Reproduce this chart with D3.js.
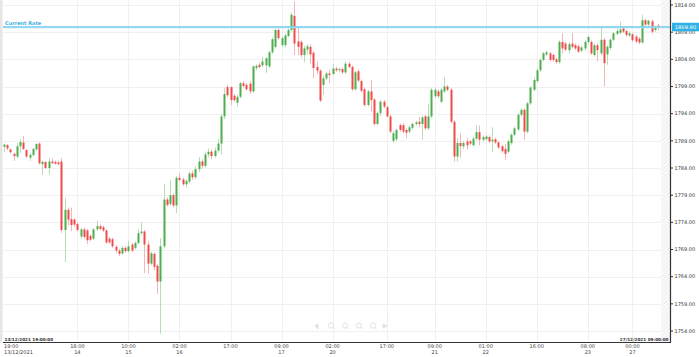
<!DOCTYPE html>
<html><head><meta charset="utf-8">
<script src="https://cdn.jsdelivr.net/npm/d3@7"></script>
<style>html,body{margin:0;padding:0;background:#fff;}svg{display:block;}</style>
</head><body>
<svg id="c" width="699" height="357"></svg>
<script>
const opens = [1787.9,1788.2,1787.4,1786.6,1786.1,1788.0,1788.7,1787.3,1785.9,1786.4,1787.4,1788.5,1784.7,1785.1,1784.0,1785.2,1785.1,1785.0,1785.2,1772.6,
1776.3,1774.6,1774.5,1773.7,1771.4,1772.7,1772.5,1771.5,1771.0,1772.7,1773.3,1773.1,1772.5,1771.0,1770.9,1769.5,1768.8,1768.3,1769.3,1768.7,
1769.9,1769.3,1770.2,1772.0,1772.3,1769.9,1766.4,1768.2,1766.0,1763.1,1769.6,1778.2,1777.4,1779.0,1777.1,1782.2,1781.9,1781.0,1781.5,1783.0,
1782.3,1783.8,1785.2,1784.4,1786.5,1787.0,1786.2,1787.2,1788.5,1793.5,1798.9,1798.9,1797.3,1796.0,1797.1,1799.6,1799.3,1799.5,1798.1,1802.4,
1803.0,1802.9,1802.9,1802.7,1805.3,1806.3,1809.4,1806.6,1806.6,1808.3,1809.4,1812.0,1807.3,1807.2,1804.8,1805.8,1806.3,1805.2,1802.6,1801.9,
1799.3,1800.5,1801.4,1801.3,1802.3,1802.0,1802.2,1801.6,1803.2,1802.6,1798.5,1801.8,1800.0,1798.5,1795.6,1798.1,1796.6,1792.1,1794.1,1796.2,
1795.2,1793.5,1789.0,1789.3,1791.9,1791.9,1791.0,1790.7,1791.4,1792.1,1792.5,1792.1,1793.5,1791.3,1793.5,1797.2,1798.1,1796.2,1798.1,1799.0,
1798.4,1792.5,1786.1,1788.6,1788.0,1788.9,1788.9,1788.2,1789.4,1790.6,1789.2,1789.3,1789.7,1788.9,1789.3,1788.7,1788.0,1787.5,1787.0,1788.6,
1790.1,1791.1,1793.8,1794.7,1790.7,1795.9,1798.4,1800.0,1802.0,1803.9,1804.9,1805.1,1804.8,1804.0,1803.5,1807.2,1806.9,1805.7,1806.9,1806.6,
1806.4,1805.6,1806.0,1807.2,1807.2,1804.8,1806.6,1805.1,1807.6,1804.9,1806.1,1807.6,1808.7,1808.9,1809.7,1809.2,1808.4,1808.6,1808.2,1807.8,
1807.1,1811.2,1810.4,1811.0,1809.4,1810.2];
const highs = [1788.5,1788.4,1787.6,1786.8,1788.6,1789.3,1789.9,1787.5,1786.8,1787.7,1788.6,1788.7,1785.4,1785.3,1785.8,1785.8,1785.4,1785.3,1785.8,1778.5,
1776.7,1776.7,1774.8,1774.0,1773.0,1773.0,1772.8,1771.8,1773.0,1774.3,1773.6,1773.4,1772.8,1771.3,1771.2,1769.8,1769.1,1769.6,1769.6,1770.6,
1770.2,1770.5,1772.7,1774.0,1772.6,1770.5,1768.6,1768.5,1766.3,1771.1,1781.1,1778.6,1781.8,1779.3,1782.5,1783.0,1782.2,1781.9,1783.3,1783.5,
1784.3,1786.0,1785.6,1787.0,1787.6,1787.4,1787.8,1789.4,1794.0,1798.7,1799.3,1799.0,1797.6,1797.4,1799.9,1800.0,1799.6,1800.0,1802.9,1803.1,
1803.3,1804.5,1804.4,1805.6,1808.0,1809.7,1809.9,1808.2,1808.7,1809.7,1812.6,1814.6,1809.9,1807.5,1806.5,1806.8,1806.8,1805.6,1803.6,1802.2,
1801.0,1801.7,1802.0,1803.2,1802.6,1802.5,1802.5,1803.6,1803.5,1802.9,1801.9,1802.1,1800.3,1798.8,1798.4,1800.2,1796.9,1794.4,1796.5,1796.5,
1795.5,1793.8,1790.8,1791.3,1792.2,1792.3,1791.3,1791.8,1792.4,1792.7,1793.4,1793.6,1793.8,1795.8,1798.7,1798.7,1798.5,1798.7,1800.8,1799.3,
1798.7,1792.8,1789.5,1790.4,1789.0,1789.5,1789.2,1789.7,1791.9,1791.8,1790.0,1790.1,1790.0,1791.5,1789.6,1789.0,1788.3,1788.4,1789.2,1790.4,
1791.6,1794.1,1795.0,1795.0,1796.2,1799.1,1800.6,1802.3,1804.2,1805.4,1805.6,1805.4,1805.1,1804.3,1807.5,1808.8,1807.2,1807.1,1808.8,1806.9,
1806.7,1806.5,1807.5,1808.4,1807.5,1806.9,1806.9,1810.1,1807.9,1806.6,1807.9,1809.1,1809.8,1810.9,1810.0,1809.5,1809.1,1808.9,1808.5,1808.1,
1812.2,1811.5,1811.3,1811.3,1810.2,1810.5];
const lows = [1786.9,1787.3,1786.7,1785.3,1785.8,1786.8,1787.3,1785.8,1785.3,1786.1,1787.2,1784.6,1782.7,1783.8,1782.8,1784.7,1784.6,1784.5,1772.1,1766.7,
1773.5,1772.4,1773.2,1772.3,1771.0,1771.0,1770.0,1770.5,1770.7,1772.4,1772.5,1772.2,1770.0,1770.0,1769.3,1768.4,1767.8,1768.0,1768.4,1768.4,
1768.5,1769.0,1769.9,1771.7,1764.7,1764.5,1766.1,1765.2,1760.8,1753.5,1769.2,1776.9,1777.0,1776.7,1775.7,1781.5,1780.7,1780.4,1781.2,1781.8,
1781.9,1783.3,1783.9,1784.0,1786.0,1785.6,1785.9,1786.8,1786.5,1793.0,1797.0,1795.6,1796.2,1795.3,1796.8,1798.8,1798.2,1797.6,1797.8,1802.0,
1802.3,1802.6,1801.5,1802.4,1805.0,1806.0,1807.6,1806.3,1806.3,1808.0,1809.1,1804.8,1804.8,1804.3,1803.5,1804.9,1803.2,1800.5,1801.3,1796.1,
1797.5,1800.2,1799.6,1801.0,1801.7,1801.6,1801.3,1801.3,1802.3,1798.2,1798.2,1799.8,1797.9,1795.3,1795.3,1794.4,1791.8,1791.8,1793.5,1795.0,
1793.2,1790.4,1788.6,1788.9,1790.7,1790.4,1789.5,1790.4,1791.1,1791.8,1791.5,1789.2,1791.0,1791.0,1793.2,1796.9,1796.9,1795.9,1797.8,1798.1,
1792.2,1785.2,1785.2,1785.9,1787.5,1787.4,1788.2,1787.9,1789.1,1788.2,1788.9,1789.0,1788.6,1787.0,1788.4,1787.5,1786.8,1785.5,1786.7,1788.3,
1789.8,1790.8,1793.5,1789.2,1790.4,1795.6,1798.1,1799.7,1801.7,1803.6,1804.6,1803.6,1803.6,1803.2,1803.2,1805.1,1805.5,1805.1,1806.0,1805.7,
1805.1,1805.3,1805.7,1806.9,1804.8,1804.5,1803.6,1804.8,1799.0,1803.0,1805.8,1807.3,1808.4,1808.6,1808.8,1808.2,1808.1,1807.2,1807.0,1806.8,
1806.9,1810.1,1810.1,1808.7,1809.1,1809.3];
const closes = [1788.3,1787.6,1786.9,1786.2,1788.0,1788.8,1787.5,1786.1,1786.4,1787.5,1788.4,1784.9,1785.1,1784.0,1785.2,1784.9,1784.8,1784.7,1772.6,1776.3,
1774.5,1773.5,1773.6,1772.6,1772.7,1771.3,1770.7,1770.8,1772.7,1773.3,1772.8,1772.5,1770.3,1770.3,1769.6,1768.8,1768.2,1769.3,1768.7,1769.6,
1768.8,1770.2,1772.0,1772.3,1769.9,1766.4,1768.3,1765.8,1763.1,1769.6,1778.2,1777.2,1779.0,1777.1,1782.2,1781.8,1781.0,1781.6,1783.0,1782.3,
1783.8,1785.2,1784.4,1786.5,1787.0,1786.2,1787.2,1788.5,1793.5,1797.6,1797.4,1796.5,1796.5,1797.1,1799.6,1799.1,1798.5,1798.1,1802.7,1802.8,
1802.6,1803.6,1804.2,1805.3,1807.7,1809.4,1807.9,1807.9,1808.4,1809.4,1812.2,1806.9,1806.3,1804.8,1806.0,1806.4,1804.9,1802.4,1801.9,1796.4,
1800.5,1801.4,1801.1,1802.3,1802.0,1802.2,1801.6,1803.2,1802.6,1798.5,1801.6,1800.1,1798.2,1795.6,1798.1,1796.5,1792.1,1794.1,1796.2,1795.3,
1793.5,1790.7,1790.4,1791.0,1791.0,1790.7,1790.5,1791.5,1792.1,1792.4,1792.1,1793.3,1791.3,1793.5,1798.4,1798.4,1797.2,1798.4,1799.0,1798.4,
1792.5,1786.1,1788.6,1788.0,1788.6,1788.2,1788.5,1789.4,1790.6,1789.2,1789.7,1789.8,1788.9,1789.2,1788.7,1787.8,1787.1,1786.6,1788.9,1790.1,
1791.3,1793.8,1794.7,1790.7,1795.9,1798.8,1800.2,1802.0,1803.9,1805.1,1805.3,1803.9,1803.9,1803.5,1807.2,1806.0,1805.8,1806.8,1806.3,1806.0,
1805.4,1806.2,1807.2,1808.1,1805.1,1806.6,1805.7,1807.6,1803.3,1806.3,1807.6,1808.8,1809.2,1809.5,1809.1,1808.5,1808.8,1807.5,1807.3,1807.1,
1811.2,1810.4,1811.1,1809.1,1810.0,1809.9];

const priceTicks = [1754,1759,1764,1769,1774,1779,1784,1789,1794,1799,1804,1809,1814];
const timeTickIdx = [23,39,55,71,87,103,120,135,151,167,183,197];
const timeTickTop = ["18:00","10:00","02:00","17:00","09:00","02:00","17:00","09:00","01:00","16:00","08:00","00:00"];
const timeTickBottom = ["14","15","16","","17","20","","21","22","","23","27"];
const firstLabel = ["19:00","13/12/2021"];
const startStamp = "13/12/2021 19:00:00";
const endStamp = "27/12/2021 09:00:00";
const currentRate = 1809.90;

const svg = d3.select("#c");
const x = d3.scaleLinear().domain([0, opens.length-1]).range([4, 658]);
const y = d3.scaleLinear().domain([1754, 1814]).range([331, 5]);
const plotR = 661, axisX = 670.5, axisY = 342.5;

// hatch pattern
const defs = svg.append("defs");
const pat = defs.append("pattern").attr("id","hatch").attr("patternUnits","userSpaceOnUse")
  .attr("width",3).attr("height",3).attr("patternTransform","rotate(45)");
pat.append("rect").attr("width",3).attr("height",3).attr("fill","#fafafa");
pat.append("line").attr("x1",0).attr("y1",0).attr("x2",0).attr("y2",3).attr("stroke","#e4e4e4").attr("stroke-width",1);
svg.append("rect").attr("x",plotR).attr("y",0).attr("width",axisX-plotR).attr("height",axisY).attr("fill","url(#hatch)");

// left strip
svg.append("rect").attr("x",0).attr("y",0).attr("width",2.5).attr("height",axisY).attr("fill","#e6e6e6");

// grid
svg.append("g").selectAll("line").data(priceTicks).join("line")
  .attr("x1",3).attr("x2",plotR).attr("y1",d=>Math.round(y(d))+0.5).attr("y2",d=>Math.round(y(d))+0.5)
  .attr("stroke","#f0f0f0");
svg.append("g").selectAll("line").data(timeTickIdx).join("line")
  .attr("x1",d=>Math.round(x(d))+0.5).attr("x2",d=>Math.round(x(d))+0.5).attr("y1",0).attr("y2",axisY)
  .attr("stroke","#f0f0f0");

// candles
const idx = d3.range(opens.length);
const up = i => closes[i] >= opens[i];
const g = svg.append("g");
g.selectAll("line.w").data(idx).join("line").attr("class","w")
  .attr("x1",i=>Math.round(x(i))+0.5).attr("x2",i=>Math.round(x(i))+0.5)
  .attr("y1",i=>y(highs[i])).attr("y2",i=>y(lows[i]))
  .attr("stroke",i=>up(i)?"#b5deb5":"#f7b5b5").attr("stroke-width",1);
g.selectAll("rect.b").data(idx).join("rect").attr("class","b")
  .attr("x",i=>Math.round(x(i))-0.5).attr("width",2)
  .attr("y",i=>y(Math.max(opens[i],closes[i])))
  .attr("height",i=>Math.max(1, y(Math.min(opens[i],closes[i]))-y(Math.max(opens[i],closes[i]))))
  .attr("fill",i=>up(i)?"#4cae4c":"#f04b4b");

// current rate line
svg.append("line").attr("x1",3).attr("x2",axisX).attr("y1",y(currentRate)).attr("y2",y(currentRate))
  .attr("stroke","#9fdcf2").attr("stroke-width",2);
svg.append("line").attr("x1",3).attr("x2",axisX).attr("y1",y(currentRate)-0.5).attr("y2",y(currentRate)-0.5)
  .attr("stroke","#5fc3ea").attr("stroke-width",0.6);
svg.append("text").attr("x",5).attr("y",y(currentRate)-1.8).text("Current Rate")
  .attr("font-family","DejaVu Sans").attr("font-size",5).attr("font-weight","bold").attr("fill","#44b2e3");

// axes
svg.append("line").attr("x1",axisX).attr("x2",axisX).attr("y1",0).attr("y2",axisY+0.5).attr("stroke","#333").attr("stroke-width",1.2);
svg.append("line").attr("x1",3).attr("x2",axisX).attr("y1",axisY).attr("y2",axisY).attr("stroke","#333").attr("stroke-width",1.2);

const ya = svg.append("g");
ya.selectAll("line").data(priceTicks).join("line")
  .attr("x1",axisX).attr("x2",axisX+2.5).attr("y1",d=>y(d)).attr("y2",d=>y(d)).attr("stroke","#333");
ya.selectAll("text").data(priceTicks).join("text")
  .attr("x",axisX+4).attr("y",d=>y(d)+1.8).text(d=>d.toFixed(2))
  .attr("font-family","DejaVu Sans").attr("font-size",5).attr("fill","#333");

// current rate box
const cy = y(currentRate);
svg.append("rect").attr("x",672).attr("y",cy-4.5).attr("width",27).attr("height",8.5).attr("fill","#2fb1e4");
svg.append("text").attr("x",685.5).attr("y",cy+1.9).attr("text-anchor","middle").text(currentRate.toFixed(2))
  .attr("font-family","DejaVu Sans").attr("font-size",5.2).attr("fill","#fff");

// time axis labels
const xa = svg.append("g").attr("font-family","DejaVu Sans").attr("font-size",5).attr("fill","#444");
xa.selectAll("text.t").data(timeTickIdx).join("text").attr("class","t")
  .attr("x",d=>x(d)).attr("y",347.8).attr("text-anchor","middle").text((d,k)=>timeTickTop[k]);
xa.selectAll("text.b").data(timeTickIdx).join("text").attr("class","b")
  .attr("x",d=>x(d)).attr("y",353.6).attr("text-anchor","middle").text((d,k)=>timeTickBottom[k]);
xa.append("text").attr("x",x(0)).attr("y",347.8).text(firstLabel[0]);
xa.append("text").attr("x",x(0)).attr("y",353.6).text(firstLabel[1]);

// stamps above axis
svg.append("text").attr("x",4.5).attr("y",340.6).text(startStamp)
  .attr("font-family","DejaVu Sans").attr("font-size",4.2).attr("font-weight","bold").attr("fill","#333");
svg.append("text").attr("x",668.5).attr("y",340.6).attr("text-anchor","end").text(endStamp)
  .attr("font-family","DejaVu Sans").attr("font-size",4.2).attr("font-weight","bold").attr("fill","#333");

// faint zoom icons
const icons = [317, 331, 345, 359, 373, 385];
const ic = svg.append("g").attr("stroke","#e2e2e2").attr("fill","none").attr("stroke-width",1);
icons.forEach((cx,k)=>{
  if (k===0) { ic.append("path").attr("d",`M${cx-2},${326} l3,-2 v5 z`).attr("fill","#e2e2e2"); return; }
  if (k===5) { ic.append("path").attr("d",`M${cx-2},${324} l4,2 l-4,2 z`).attr("fill","#e2e2e2"); return; }
  ic.append("circle").attr("cx",cx).attr("cy",325.5).attr("r",2.6);
  ic.append("line").attr("x1",cx+1.8).attr("y1",327.3).attr("x2",cx+3.6).attr("y2",329.1);
});
</script>
</body></html>
